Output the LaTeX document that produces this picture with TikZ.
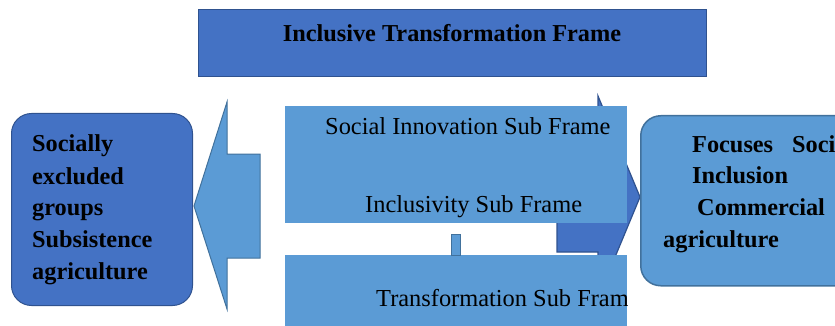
\documentclass[tikz,border=0pt]{standalone}
\usepackage{fontspec}
\setmainfont{Liberation Serif}
\definecolor{dblue}{HTML}{4472C4}
\definecolor{dborder}{HTML}{2F528F}
\definecolor{lblue}{HTML}{5B9BD5}
\definecolor{lborder}{HTML}{41719C}
\tikzset{
  darkbox/.style={fill=dblue, draw=dborder, line width=1pt},
  lightbox/.style={fill=lblue, draw=none},
  lightarrow/.style={fill=lblue, draw=lborder, line width=1pt},
  darkarrow/.style={fill=dblue, draw=dborder, line width=1.2pt},
  txt/.style={inner sep=0pt, font=\fontsize{24.4}{28}\selectfont, text=black},
  btxt/.style={txt, font=\fontsize{24.3}{28}\selectfont\bfseries}
}
\begin{document}
\begin{tikzpicture}[x=1pt,y=-1pt]
\useasboundingbox (0,0) rectangle (835,326);
\clip (0,0) rectangle (835,326);
% top box
\node[darkbox, minimum width=508pt, minimum height=67pt, anchor=north west] (top) at (198,9) {};
\node[btxt, anchor=base] (toptxt) at (452,42) {Inclusive Transformation Frame};
% left box
\node[darkbox, rounded corners=20pt, minimum width=181pt, minimum height=192pt, anchor=north west] (left) at (11,113) {};
\node[btxt, anchor=base west] (l1) at (32,152) {Socially};
\node[btxt, anchor=base west] (l2) at (32,184) {excluded};
\node[btxt, anchor=base west] (l3) at (32,215) {groups};
\node[btxt, anchor=base west] (l4) at (32,247) {Subsistence};
\node[btxt, anchor=base west] (l5) at (32,279) {agriculture};
% left arrow
\draw[lightarrow] (194,206) -- (227,102) -- (227,154) -- (260,154) -- (260,258) -- (227,258) -- (227,309) -- cycle;
% dark right arrow (behind boxes)
\draw[darkarrow] (557,142) -- (598,142) -- (598,96) -- (640,197) -- (598,298) -- (598,252) -- (557,252) -- cycle;
% central boxes
\node[lightbox, minimum width=342pt, minimum height=117pt, anchor=north west] (b1) at (285,106) {};
\node[txt, anchor=base west] (s1) at (325,135) {Social Innovation Sub Frame};
\node[txt, anchor=base west] (s2) at (365,212) {Inclusivity Sub Frame};
\node[lightbox, minimum width=342pt, minimum height=80pt, anchor=north west] (b2) at (285,255) {};
\begin{scope}
\clip (285,255) rectangle (627,326);
\node[txt, anchor=base west] (s3) at (376,306) {Transformation Sub Frame};
\end{scope}
% small connector
\draw[fill=lblue, draw=lborder, line width=0.8pt] (451,234) rectangle (460,255);
% right box
\node[fill=lblue, draw=lborder, line width=1.5pt, rounded corners=20pt, minimum width=230pt, minimum height=170pt, anchor=north west] (right) at (640,115) {};
\node[btxt, anchor=base west] (r1) at (692,153) {Focuses};
\node[btxt, anchor=base west] (r1b) at (792,153) {Soci};
\node[btxt, anchor=base west] (r2) at (692,183) {Inclusion};
\node[btxt, anchor=base west] (r3) at (697,215) {Commercial};
\node[btxt, anchor=base west] (r4) at (663,247) {agriculture};
\end{tikzpicture}
\end{document}
